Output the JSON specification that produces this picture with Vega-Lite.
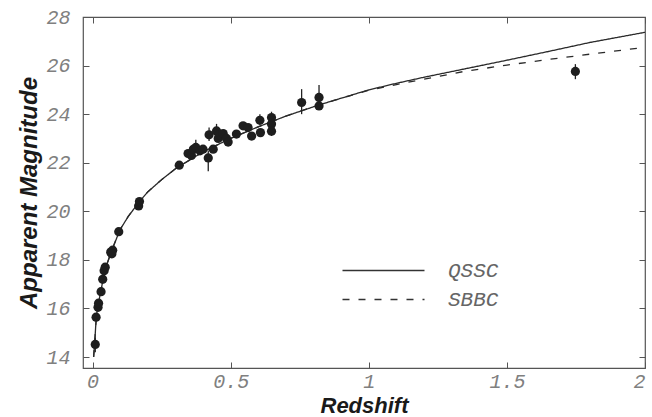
{
  "$schema": "https://vega.github.io/schema/vega-lite/v6.json",
  "width": 562,
  "height": 351,
  "autosize": "none",
  "padding": {"left": 83, "top": 17, "right": 7, "bottom": 49},
  "background": "white",
  "config": {
    "view": {"stroke": "#555", "strokeWidth": 1.2},
    "axis": {
      "domain": false,
      "grid": false,
      "tickColor": "#555",
      "tickSize": -6,
      "tickWidth": 1,
      "labelFont": "Liberation Mono",
      "labelFontStyle": "italic",
      "labelFontSize": 20,
      "labelColor": "#808080",
      "titleFont": "Liberation Sans",
      "titleFontStyle": "italic",
      "titleFontWeight": "bold",
      "titleFontSize": 24,
      "titleColor": "#1a1a1a"
    },
    "legend": {
      "symbolType": "M-5,0H5",
      "symbolSize": 269,
      "symbolStrokeWidth": 1.3,
      "symbolStrokeColor": "#333",
      "labelFont": "Liberation Mono",
      "labelFontStyle": "italic",
      "labelFontSize": 21,
      "labelColor": "#666",
      "labelOffset": 54,
      "rowPadding": 7
    }
  },
  "datasets": {
    "obs": [
      {"z": 0.010, "m": 14.52}, {"z": 0.013, "m": 15.64}, {"z": 0.020, "m": 16.05},
      {"z": 0.022, "m": 16.22}, {"z": 0.031, "m": 16.69}, {"z": 0.037, "m": 17.2},
      {"z": 0.042, "m": 17.55}, {"z": 0.046, "m": 17.7}, {"z": 0.066, "m": 18.32},
      {"z": 0.073, "m": 18.4}, {"z": 0.070, "m": 18.25}, {"z": 0.095, "m": 19.16},
      {"z": 0.167, "m": 20.22}, {"z": 0.170, "m": 20.4}, {"z": 0.314, "m": 21.9},
      {"z": 0.346, "m": 22.38}, {"z": 0.358, "m": 22.3}, {"z": 0.365, "m": 22.55},
      {"z": 0.374, "m": 22.63}, {"z": 0.389, "m": 22.49}, {"z": 0.400, "m": 22.56},
      {"z": 0.419, "m": 22.2}, {"z": 0.422, "m": 23.15}, {"z": 0.437, "m": 22.56},
      {"z": 0.449, "m": 23.31}, {"z": 0.455, "m": 23.0}, {"z": 0.459, "m": 23.15},
      {"z": 0.473, "m": 23.2}, {"z": 0.485, "m": 23.0}, {"z": 0.491, "m": 22.85},
      {"z": 0.521, "m": 23.18}, {"z": 0.545, "m": 23.52}, {"z": 0.563, "m": 23.45},
      {"z": 0.576, "m": 23.1}, {"z": 0.606, "m": 23.75}, {"z": 0.608, "m": 23.24},
      {"z": 0.648, "m": 23.86}, {"z": 0.648, "m": 23.59}, {"z": 0.648, "m": 23.3},
      {"z": 0.757, "m": 24.48}, {"z": 0.820, "m": 24.69}, {"z": 0.820, "m": 24.34},
      {"z": 1.748, "m": 25.76}
    ],
    "err": [
      {"z": 0.419, "lo": 21.65, "hi": 22.5},
      {"z": 0.374, "lo": 22.4, "hi": 22.95},
      {"z": 0.449, "lo": 23.05, "hi": 23.6},
      {"z": 0.422, "lo": 22.9, "hi": 23.45},
      {"z": 0.606, "lo": 23.55, "hi": 24.0},
      {"z": 0.648, "lo": 23.1, "hi": 24.1},
      {"z": 0.757, "lo": 24.0, "hi": 25.03},
      {"z": 0.820, "lo": 24.2, "hi": 25.2},
      {"z": 1.748, "lo": 25.44, "hi": 26.06},
      {"z": 0.010, "lo": 14.2, "hi": 14.8}
    ],
    "models": [
      {"z": 0.004, "m": 14.0, "model": "QSSC"}, {"z": 0.008, "m": 14.6, "model": "QSSC"},
      {"z": 0.012, "m": 15.35, "model": "QSSC"}, {"z": 0.016, "m": 15.85, "model": "QSSC"},
      {"z": 0.022, "m": 16.25, "model": "QSSC"}, {"z": 0.03, "m": 16.7, "model": "QSSC"},
      {"z": 0.04, "m": 17.3, "model": "QSSC"}, {"z": 0.05, "m": 17.75, "model": "QSSC"},
      {"z": 0.07, "m": 18.4, "model": "QSSC"}, {"z": 0.1, "m": 19.25, "model": "QSSC"},
      {"z": 0.13, "m": 19.8, "model": "QSSC"}, {"z": 0.17, "m": 20.4, "model": "QSSC"},
      {"z": 0.2, "m": 20.8, "model": "QSSC"}, {"z": 0.25, "m": 21.3, "model": "QSSC"},
      {"z": 0.3, "m": 21.75, "model": "QSSC"}, {"z": 0.4, "m": 22.45, "model": "QSSC"},
      {"z": 0.5, "m": 23.0, "model": "QSSC"}, {"z": 0.6, "m": 23.48, "model": "QSSC"},
      {"z": 0.7, "m": 23.92, "model": "QSSC"}, {"z": 0.82, "m": 24.38, "model": "QSSC"},
      {"z": 1.0, "m": 25.0, "model": "QSSC"}, {"z": 1.1, "m": 25.27, "model": "QSSC"},
      {"z": 1.2, "m": 25.52, "model": "QSSC"}, {"z": 1.35, "m": 25.87, "model": "QSSC"},
      {"z": 1.5, "m": 26.22, "model": "QSSC"}, {"z": 1.65, "m": 26.58, "model": "QSSC"},
      {"z": 1.8, "m": 26.95, "model": "QSSC"}, {"z": 2.0, "m": 27.37, "model": "QSSC"},
      {"z": 0.004, "m": 14.0, "model": "SBBC"}, {"z": 0.008, "m": 14.6, "model": "SBBC"},
      {"z": 0.012, "m": 15.35, "model": "SBBC"}, {"z": 0.016, "m": 15.85, "model": "SBBC"},
      {"z": 0.022, "m": 16.25, "model": "SBBC"}, {"z": 0.03, "m": 16.7, "model": "SBBC"},
      {"z": 0.04, "m": 17.3, "model": "SBBC"}, {"z": 0.05, "m": 17.75, "model": "SBBC"},
      {"z": 0.07, "m": 18.4, "model": "SBBC"}, {"z": 0.1, "m": 19.25, "model": "SBBC"},
      {"z": 0.13, "m": 19.8, "model": "SBBC"}, {"z": 0.17, "m": 20.4, "model": "SBBC"},
      {"z": 0.2, "m": 20.8, "model": "SBBC"}, {"z": 0.25, "m": 21.3, "model": "SBBC"},
      {"z": 0.3, "m": 21.75, "model": "SBBC"}, {"z": 0.4, "m": 22.45, "model": "SBBC"},
      {"z": 0.5, "m": 23.0, "model": "SBBC"}, {"z": 0.6, "m": 23.48, "model": "SBBC"},
      {"z": 0.7, "m": 23.92, "model": "SBBC"}, {"z": 0.82, "m": 24.38, "model": "SBBC"},
      {"z": 1.0, "m": 24.98, "model": "SBBC"}, {"z": 1.1, "m": 25.22, "model": "SBBC"},
      {"z": 1.2, "m": 25.44, "model": "SBBC"}, {"z": 1.35, "m": 25.77, "model": "SBBC"},
      {"z": 1.5, "m": 26.02, "model": "SBBC"}, {"z": 1.65, "m": 26.25, "model": "SBBC"},
      {"z": 1.8, "m": 26.47, "model": "SBBC"}, {"z": 2.0, "m": 26.75, "model": "SBBC"}
    ]
  },
  "layer": [
    {
      "data": {"name": "models"},
      "mark": {"type": "line", "stroke": "#2a2a2a", "strokeWidth": 1.3, "clip": true},
      "encoding": {
        "x": {"field": "z", "type": "quantitative", "scale": {"domain": [-0.0344, 2], "nice": false, "zero": false},
              "axis": {"orient": "bottom", "values": [0, 0.5, 1, 1.5, 2], "format": ".1~f", "labelPadding": 9, "title": "Redshift", "titleFontSize": 22, "titleBaseline": "alphabetic", "titleY": 44}},
        "y": {"field": "m", "type": "quantitative", "scale": {"domain": [13.55, 28], "nice": false, "zero": false},
              "axis": {"orient": "left", "values": [14, 16, 18, 20, 22, 24, 26, 28], "labelPadding": 19, "title": "Apparent Magnitude", "titlePadding": 4}},
        "strokeDash": {"field": "model", "type": "nominal",
                       "scale": {"domain": ["QSSC", "SBBC"], "range": [[1, 0], [7, 9]]},
                       "legend": {"orient": "none", "legendX": 290, "legendY": 243, "title": null}}
      }
    },
    {
      "data": {"name": "err"},
      "mark": {"type": "rule", "stroke": "#222", "strokeWidth": 1.3},
      "encoding": {
        "x": {"field": "z", "type": "quantitative", "axis": {"orient": "top", "values": [0, 0.5, 1, 1.5, 2], "labels": false, "title": null}},
        "y": {"field": "lo", "type": "quantitative", "axis": {"orient": "right", "values": [14, 16, 18, 20, 22, 24, 26, 28], "labels": false, "title": null}},
        "y2": {"field": "hi"}
      }
    },
    {
      "data": {"name": "obs"},
      "mark": {"type": "point", "shape": "circle", "filled": true, "color": "#1e1e1e", "opacity": 1, "size": 85},
      "encoding": {
        "x": {"field": "z", "type": "quantitative", "axis": null},
        "y": {"field": "m", "type": "quantitative", "axis": null}
      }
    }
  ],
  "resolve": {"axis": {"x": "independent", "y": "independent"}}
}
